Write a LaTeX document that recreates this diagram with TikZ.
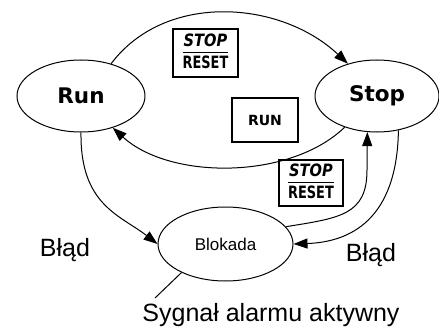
\documentclass[tikz,border=0pt]{standalone}
\usepackage{fontspec}
\usepackage{graphicx}
\setmainfont{Liberation Sans}
\newfontfamily\statefont{DejaVu Sans}
\usetikzlibrary{arrows.meta,shapes.geometric}
\setlength{\arrayrulewidth}{1pt}
\newcommand{\stopreset}{\begin{tabular}{@{}c@{}}\scalebox{.86}[1]{\itshape STOP}\\[-1pt]\hline\scalebox{.76}[1]{RESET}\end{tabular}}

\begin{document}
\begin{tikzpicture}[
  x=1pt,y=-1pt,
  st/.style={draw,ellipse,line width=1pt,inner sep=0pt},
  big/.style={st,minimum width=128pt,minimum height=72pt,font=\statefont\bfseries\fontsize{21.5}{25}\selectfont},
  key/.style={draw,line width=1.2pt,inner sep=0pt,font=\statefont\bfseries\fontsize{17}{22}\selectfont},
  lbl/.style={inner sep=0pt,font=\fontsize{25}{30}\selectfont},
  ar/.style={line width=1pt,-{Triangle[length=14pt,width=10pt]}}
]
\useasboundingbox (0,0) rectangle (439,329);
% states
\node[big] (run) at (81,96) {Run};
\node[big,minimum width=124pt] (stop) at (377,96) {Stop};
\node[st,minimum width=135pt,minimum height=74pt,font=\fontsize{17}{20}\selectfont] (blk) at (225.5,244) {Blokada};
% keys
\node[key,minimum width=65pt,minimum height=48pt] (sr1) at (205.5,53) {\stopreset};
\node[key,minimum width=66pt,minimum height=44pt,font=\statefont\bfseries\fontsize{14}{16}\selectfont] (rk) at (265,120) {RUN};
\node[key,minimum width=64pt,minimum height=46pt] (sr2) at (311,183) {\stopreset};
% labels
\node[lbl] (err1) at (65,250) {Błąd};
\node[lbl] (err2) at (371,255) {Błąd};
\node[lbl] (sig) at (271,315) {Sygnał alarmu aktywny};
\coordinate (sigtip) at (155,298);
% transitions
\draw[ar] (run.47) .. controls (165,-8) and (280,0) .. (stop.132);
\draw[ar] (stop.224) .. controls (290,180) and (170,180) .. (run.-45);
\draw[ar] (run.south) .. controls (80,205) and (120,215) .. (blk.west);
\draw[ar] (blk.16) .. controls (340,218) and (367,215) .. (367,170) -- (stop.-105);
\draw[ar] (stop.-58) .. controls (397,220) and (350,242) .. (blk.east);
\draw[line width=1pt] (blk.213) -- (sigtip);
\end{tikzpicture}
\end{document}
